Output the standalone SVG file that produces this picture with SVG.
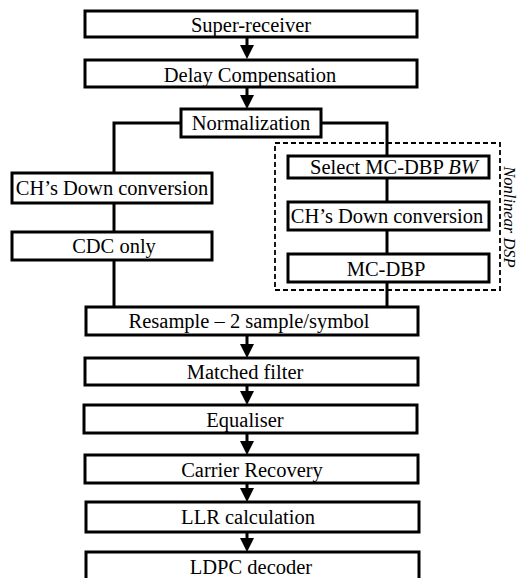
<svg xmlns="http://www.w3.org/2000/svg" width="519" height="578" viewBox="0 0 519 578">
<style>
.box{fill:#fff;stroke:#000;stroke-width:3}
.t{font-family:"Liberation Serif","Times New Roman",serif;font-size:20.5px;fill:#000;text-anchor:middle}
.ln{fill:none;stroke:#000;stroke-width:3}
.dash{fill:none;stroke:#000;stroke-width:1.8;stroke-dasharray:5,3}
.ah{fill:#000}
</style>
<rect width="519" height="578" fill="#fff"/>
<g id="group-nonlinear">
<rect class="dash" x="275" y="143" width="225" height="147"/>
<text class="t" font-style="italic" transform="translate(503.5,217) rotate(90)" style="font-size:16.5px">Nonlinear DSP</text>
</g>
<g id="connectors">
<line class="ln" x1="247" y1="37" x2="247" y2="48"/>
<polygon class="ah" points="240,45 254,45 247,59"/>
<line class="ln" x1="247" y1="87" x2="247" y2="98"/>
<polygon class="ah" points="240,95 254,95 247,109"/>
<polyline class="ln" points="181,123 114,123 114,173"/>
<polyline class="ln" points="321,123 387,123 387,156"/>
<line class="ln" x1="114" y1="203" x2="114" y2="232"/>
<line class="ln" x1="114" y1="260" x2="114" y2="307"/>
<line class="ln" x1="387" y1="178" x2="387" y2="202"/>
<line class="ln" x1="387" y1="230" x2="387" y2="254"/>
<line class="ln" x1="387" y1="282" x2="387" y2="307"/>
<line class="ln" x1="247" y1="335" x2="247" y2="347"/>
<polygon class="ah" points="240,344 254,344 247,358"/>
<line class="ln" x1="247" y1="385" x2="247" y2="394"/>
<polygon class="ah" points="240,391 254,391 247,405"/>
<line class="ln" x1="247" y1="433" x2="247" y2="444"/>
<polygon class="ah" points="240,441 254,441 247,455"/>
<line class="ln" x1="247" y1="483" x2="247" y2="491"/>
<polygon class="ah" points="240,488 254,488 247,502"/>
<line class="ln" x1="247" y1="532" x2="247" y2="541"/>
<polygon class="ah" points="240,538 254,538 247,552"/>
</g>
<g id="super-receiver"><rect class="box" x="85" y="11" width="332" height="26"/><text class="t" x="251" y="32">Super-receiver</text></g>
<g id="delay-compensation"><rect class="box" x="85" y="60" width="332" height="27"/><text class="t" x="250" y="82">Delay Compensation</text></g>
<g id="normalization"><rect class="box" x="181" y="109" width="140" height="28"/><text class="t" x="251" y="130">Normalization</text></g>
<g id="ch-down-left"><rect class="box" x="12" y="173" width="200" height="30"/><text class="t" x="112" y="195">CH’s Down conversion</text></g>
<g id="cdc-only"><rect class="box" x="12" y="232" width="200" height="28"/><text class="t" x="114" y="253">CDC only</text></g>
<g id="select-bw"><rect class="box" x="288" y="156" width="201" height="22"/><text class="t" x="394" y="174">Select MC-DBP <tspan font-style="italic">BW</tspan></text></g>
<g id="ch-down-right"><rect class="box" x="288" y="202" width="201" height="28"/><text class="t" x="387" y="223">CH’s Down conversion</text></g>
<g id="mc-dbp"><rect class="box" x="288" y="254" width="201" height="28"/><text class="t" x="386" y="276">MC-DBP</text></g>
<g id="resample"><rect class="box" x="86" y="307" width="332" height="28"/><text class="t" x="249" y="328">Resample – 2 sample/symbol</text></g>
<g id="matched-filter"><rect class="box" x="85" y="358" width="333" height="27"/><text class="t" x="245" y="379">Matched filter</text></g>
<g id="equaliser"><rect class="box" x="84" y="405" width="333" height="28"/><text class="t" x="245" y="427">Equaliser</text></g>
<g id="carrier-recovery"><rect class="box" x="85" y="455" width="333" height="28"/><text class="t" x="252" y="477">Carrier Recovery</text></g>
<g id="llr"><rect class="box" x="86" y="502" width="333" height="30"/><text class="t" x="248" y="524">LLR calculation</text></g>
<g id="ldpc"><rect class="box" x="86" y="552" width="333" height="30"/><text class="t" x="251" y="574">LDPC decoder</text></g>
</svg>
